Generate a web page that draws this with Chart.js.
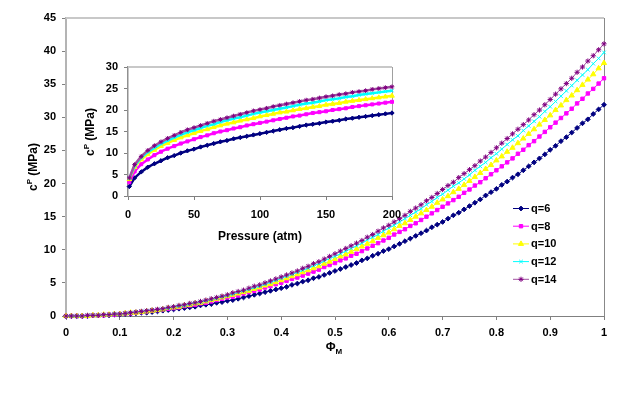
<!DOCTYPE html>
<html>
<head>
<meta charset="utf-8">
<script src="https://cdn.jsdelivr.net/npm/chart.js@4.4.0/dist/chart.umd.min.js"></script>
<style>
  html, body { margin: 0; padding: 0; background: #fff; }
  #wrap { position: relative; width: 635px; height: 393px; }
  #main { position: absolute; left: 0; top: 0; }
  #inset { position: absolute; left: 70px; top: 50px; }
</style>
</head>
<body>
<div id="wrap">
  <canvas id="main" width="635" height="393"></canvas>
  <canvas id="inset" width="350" height="200"></canvas>
</div>
<script>
// main chart: volume fraction (x) against c^P
var phi = [0,
  0.01, 0.02, 0.03, 0.04, 0.05, 0.06, 0.07, 0.08, 0.09, 0.10,
  0.11, 0.12, 0.13, 0.14, 0.15, 0.16, 0.17, 0.18, 0.19, 0.20,
  0.21, 0.22, 0.23, 0.24, 0.25, 0.26, 0.27, 0.28, 0.29, 0.30,
  0.31, 0.32, 0.33, 0.34, 0.35, 0.36, 0.37, 0.38, 0.39, 0.40,
  0.41, 0.42, 0.43, 0.44, 0.45, 0.46, 0.47, 0.48, 0.49, 0.50,
  0.51, 0.52, 0.53, 0.54, 0.55, 0.56, 0.57, 0.58, 0.59, 0.60,
  0.61, 0.62, 0.63, 0.64, 0.65, 0.66, 0.67, 0.68, 0.69, 0.70,
  0.71, 0.72, 0.73, 0.74, 0.75, 0.76, 0.77, 0.78, 0.79, 0.80,
  0.81, 0.82, 0.83, 0.84, 0.85, 0.86, 0.87, 0.88, 0.89, 0.90,
  0.91, 0.92, 0.93, 0.94, 0.95, 0.96, 0.97, 0.98, 0.99, 1.00];

var q6 = [0,
  0, 0, 0, 0, 0.1, 0.1, 0.1, 0.1, 0.2, 0.2,
  0.3, 0.3, 0.4, 0.5, 0.5, 0.6, 0.7, 0.8, 0.9, 1.0,
  1.1, 1.2, 1.3, 1.4, 1.6, 1.7, 1.8, 2.0, 2.1, 2.3,
  2.4, 2.6, 2.8, 3.0, 3.2, 3.4, 3.6, 3.8, 4.0, 4.2,
  4.4, 4.7, 4.9, 5.2, 5.4, 5.7, 5.9, 6.2, 6.5, 6.8,
  7.1, 7.4, 7.7, 8.0, 8.4, 8.7, 9.1, 9.4, 9.8, 10.1,
  10.5, 10.9, 11.3, 11.7, 12.1, 12.5, 12.9, 13.4, 13.8, 14.2,
  14.7, 15.2, 15.6, 16.1, 16.6, 17.1, 17.6, 18.2, 18.7, 19.2,
  19.8, 20.3, 20.9, 21.4, 22.0, 22.6, 23.2, 23.8, 24.4, 25.1,
  25.7, 26.4, 27.0, 27.7, 28.4, 29.1, 29.7, 30.5, 31.2, 31.9];

var q8 = [0,
  0, 0, 0, 0, 0.1, 0.1, 0.1, 0.2, 0.2, 0.3,
  0.4, 0.4, 0.5, 0.6, 0.7, 0.8, 0.9, 1.0, 1.1, 1.2,
  1.3, 1.5, 1.6, 1.7, 1.9, 2.0, 2.2, 2.4, 2.6, 2.8,
  2.9, 3.1, 3.4, 3.6, 3.8, 4.0, 4.3, 4.5, 4.8, 5.0,
  5.3, 5.6, 5.8, 6.1, 6.4, 6.7, 7.0, 7.4, 7.7, 8.0,
  8.4, 8.7, 9.1, 9.4, 9.8, 10.2, 10.6, 11.0, 11.4, 11.8,
  12.3, 12.7, 13.1, 13.6, 14.0, 14.5, 15.0, 15.5, 16.0, 16.5,
  17.0, 17.5, 18.0, 18.6, 19.1, 19.7, 20.2, 20.8, 21.4, 22.0,
  22.6, 23.2, 23.8, 24.5, 25.1, 25.8, 26.4, 27.1, 27.8, 28.5,
  29.2, 29.9, 30.6, 31.3, 32.1, 32.8, 33.6, 34.3, 35.1, 35.9];

var q10 = [0,
  0, 0, 0, 0, 0.1, 0.1, 0.2, 0.2, 0.3, 0.3,
  0.4, 0.5, 0.5, 0.6, 0.7, 0.8, 0.9, 1.0, 1.2, 1.3,
  1.4, 1.6, 1.7, 1.9, 2.0, 2.2, 2.4, 2.6, 2.8, 3.0,
  3.2, 3.4, 3.6, 3.8, 4.1, 4.3, 4.6, 4.8, 5.1, 5.4,
  5.7, 6.0, 6.3, 6.6, 6.9, 7.2, 7.5, 7.9, 8.2, 8.6,
  9.0, 9.3, 9.7, 10.1, 10.5, 10.9, 11.3, 11.8, 12.2, 12.6,
  13.1, 13.6, 14.0, 14.5, 15.0, 15.5, 16.0, 16.5, 17.1, 17.6,
  18.1, 18.7, 19.2, 19.8, 20.4, 21.0, 21.6, 22.2, 22.8, 23.5,
  24.1, 24.8, 25.4, 26.1, 26.8, 27.5, 28.2, 28.9, 29.6, 30.3,
  31.1, 31.8, 32.6, 33.3, 34.1, 34.9, 35.7, 36.5, 37.4, 38.2];

var q12 = [0,
  0, 0, 0, 0.1, 0.1, 0.1, 0.2, 0.2, 0.3, 0.3,
  0.4, 0.5, 0.6, 0.7, 0.8, 0.9, 1.0, 1.1, 1.2, 1.4,
  1.5, 1.6, 1.8, 2.0, 2.1, 2.3, 2.5, 2.7, 2.9, 3.1,
  3.3, 3.6, 3.8, 4.0, 4.3, 4.5, 4.8, 5.1, 5.4, 5.7,
  6.0, 6.3, 6.6, 6.9, 7.2, 7.6, 7.9, 8.3, 8.7, 9.0,
  9.4, 9.8, 10.2, 10.6, 11.0, 11.5, 11.9, 12.3, 12.8, 13.3,
  13.7, 14.2, 14.7, 15.2, 15.7, 16.2, 16.8, 17.3, 17.9, 18.4,
  19.0, 19.6, 20.1, 20.7, 21.3, 22.0, 22.6, 23.2, 23.9, 24.5,
  25.2, 25.9, 26.6, 27.2, 28.0, 28.7, 29.4, 30.1, 30.9, 31.6,
  32.4, 33.2, 34.0, 34.8, 35.6, 36.4, 37.2, 38.1, 38.9, 39.8];

var q14 = [0,
  0, 0, 0, 0.1, 0.1, 0.1, 0.2, 0.2, 0.3, 0.3,
  0.4, 0.5, 0.6, 0.7, 0.8, 0.9, 1.0, 1.1, 1.3, 1.4,
  1.6, 1.7, 1.9, 2.0, 2.2, 2.4, 2.6, 2.8, 3.0, 3.2,
  3.5, 3.7, 3.9, 4.2, 4.5, 4.7, 5.0, 5.3, 5.6, 5.9,
  6.2, 6.5, 6.8, 7.2, 7.5, 7.9, 8.2, 8.6, 9.0, 9.4,
  9.8, 10.2, 10.6, 11.0, 11.4, 11.9, 12.3, 12.8, 13.3, 13.7,
  14.2, 14.7, 15.2, 15.8, 16.3, 16.8, 17.4, 17.9, 18.5, 19.1,
  19.7, 20.2, 20.9, 21.5, 22.1, 22.7, 23.4, 24.0, 24.7, 25.4,
  26.1, 26.8, 27.5, 28.2, 28.9, 29.6, 30.4, 31.1, 31.9, 32.7,
  33.5, 34.3, 35.1, 35.9, 36.8, 37.6, 38.5, 39.3, 40.2, 41.1];

// inset: pressure (atm) against c^P
var pressure = [1, 5, 10, 15, 20, 25, 30, 35, 40, 45, 50,
  55, 60, 65, 70, 75, 80, 85, 90, 95, 100,
  105, 110, 115, 120, 125, 130, 135, 140, 145, 150,
  155, 160, 165, 170, 175, 180, 185, 190, 195, 200];

var p6 = [2.2, 4.2, 5.6, 6.7, 7.5, 8.2, 8.9, 9.4, 10.0, 10.5, 10.9,
  11.4, 11.8, 12.2, 12.6, 12.9, 13.3, 13.6, 13.9, 14.2, 14.5,
  14.8, 15.1, 15.4, 15.7, 15.9, 16.2, 16.5, 16.7, 16.9, 17.2,
  17.4, 17.6, 17.9, 18.1, 18.3, 18.5, 18.7, 18.9, 19.1, 19.3];
var p8 = [3.2, 5.7, 7.4, 8.5, 9.5, 10.3, 11.0, 11.6, 12.2, 12.7, 13.2,
  13.7, 14.1, 14.6, 15.0, 15.3, 15.7, 16.0, 16.4, 16.7, 17.0,
  17.3, 17.6, 17.9, 18.2, 18.5, 18.7, 19.0, 19.3, 19.5, 19.7,
  20.0, 20.2, 20.4, 20.7, 20.9, 21.1, 21.3, 21.5, 21.7, 21.9];
var p10 = [3.9, 6.7, 8.5, 9.7, 10.7, 11.6, 12.3, 13.0, 13.6, 14.1, 14.6,
  15.1, 15.5, 16.0, 16.4, 16.8, 17.1, 17.5, 17.8, 18.1, 18.5,
  18.8, 19.1, 19.4, 19.6, 19.9, 20.2, 20.4, 20.7, 20.9, 21.2,
  21.4, 21.6, 21.9, 22.1, 22.3, 22.5, 22.7, 22.9, 23.1, 23.3];
var p12 = [4.1, 7.0, 8.9, 10.2, 11.2, 12.1, 12.9, 13.6, 14.2, 14.8, 15.3,
  15.8, 16.3, 16.7, 17.2, 17.6, 18.0, 18.3, 18.7, 19.1, 19.4,
  19.7, 20.0, 20.3, 20.6, 20.9, 21.2, 21.5, 21.7, 22.0, 22.3,
  22.5, 22.7, 23.0, 23.2, 23.5, 23.7, 23.9, 24.1, 24.3, 24.5];
var p14 = [4.2, 7.3, 9.2, 10.6, 11.7, 12.6, 13.4, 14.1, 14.8, 15.4, 15.9,
  16.4, 16.9, 17.4, 17.8, 18.2, 18.6, 19.0, 19.4, 19.8, 20.1,
  20.4, 20.8, 21.1, 21.4, 21.7, 22.0, 22.3, 22.5, 22.8, 23.1,
  23.3, 23.6, 23.8, 24.1, 24.3, 24.5, 24.8, 25.0, 25.2, 25.4];

var seriesNames = ['q=6', 'q=8', 'q=10', 'q=12', 'q=14'];
var mainSeries = [q6, q8, q10, q12, q14];
var insetSeries = [p6, p8, p10, p12, p14];
var colors = ['#000080', '#ff00ff', '#ffff00', '#00ffff', '#800080'];
var lineColors = ['#000080', '#ff00ff', '#ffff00', '#00ffff', '#a050a0'];
var markers = ['rectRot', 'rect', 'triangle', 'crossRot', 'star'];
var markerSize = [2.4, 2.4, 3, 2.5, 2.6];

var FONT = 'Arial, "Liberation Sans", sans-serif';
Chart.defaults.font.family = FONT;
Chart.defaults.font.size = 11;
Chart.defaults.font.weight = 'bold';
Chart.defaults.color = '#000';

function pairs(xs, ys) {
    return xs.map(function(x, i) { return { x: x, y: ys[i] }; });
}

function makeDatasets(xs, list, sizeScale, lineWidth) {
    return list.map(function(ys, i) {
        return {
            label: seriesNames[i],
            data: pairs(xs, ys),
            borderColor: lineColors[i],
            backgroundColor: colors[i],
            pointBorderColor: colors[i],
            pointBackgroundColor: colors[i],
            pointStyle: markers[i],
            pointRadius: markerSize[i] * sizeScale,
            pointBorderWidth: 1,
            borderWidth: lineWidth,
            showLine: true,
            clip: false,
            order: 4 - i
        };
    });
}

// text with super/subscript parts, optionally rotated
function drawRich(ctx, parts, cx, cy, rotated) {
    ctx.save();
    ctx.translate(cx, cy);
    if (rotated) ctx.rotate(-Math.PI / 2);
    var total = 0;
    parts.forEach(function(p) {
        ctx.font = 'bold ' + p.size + 'px ' + FONT;
        p.w = ctx.measureText(p.t).width;
        total += p.w;
    });
    var x = -total / 2;
    ctx.fillStyle = '#000';
    ctx.textBaseline = 'middle';
    ctx.textAlign = 'left';
    parts.forEach(function(p) {
        ctx.font = 'bold ' + p.size + 'px ' + FONT;
        ctx.fillText(p.t, x, p.dy || 0);
        x += p.w;
    });
    ctx.restore();
}

function frame(ctx, a, topColor, rightColor) {
    ctx.save();
    ctx.strokeStyle = topColor;
    ctx.lineWidth = 2;
    ctx.beginPath();
    ctx.moveTo(a.left, a.top);
    ctx.lineTo(a.right, a.top);
    ctx.stroke();
    ctx.strokeStyle = rightColor;
    ctx.lineWidth = 1;
    ctx.beginPath();
    ctx.moveTo(a.right + 0.5, a.top);
    ctx.lineTo(a.right + 0.5, a.bottom);
    ctx.stroke();
    ctx.restore();
}

var mainDecor = {
    id: 'mainDecor',
    beforeDatasetsDraw: function(chart) {
        frame(chart.ctx, chart.chartArea, '#c8c8c8', '#888888');
    },
    afterDraw: function(chart) {
        var ctx = chart.ctx;
        drawRich(ctx, [{ t: 'c', size: 12 }, { t: 'P', size: 8, dy: -4 }, { t: ' (MPa)', size: 12 }], 34, 167, true);
        drawRich(ctx, [{ t: 'Φ', size: 12 }, { t: 'M', size: 8, dy: 4 }], 334, 348, false);

        // legend
        for (var i = 0; i < seriesNames.length; i++) {
            var y = 208 + i * 17.7;
            ctx.save();
            ctx.strokeStyle = lineColors[i];
            ctx.lineWidth = 1;
            ctx.beginPath();
            ctx.moveTo(513, y + 0.5);
            ctx.lineTo(529, y + 0.5);
            ctx.stroke();
            ctx.fillStyle = colors[i];
            ctx.strokeStyle = colors[i];
            Chart.helpers.drawPoint(ctx, { pointStyle: markers[i], radius: markerSize[i], rotation: 0, borderWidth: 1 }, 521, y + 0.5);
            ctx.fillStyle = '#000';
            ctx.font = 'bold 11px ' + FONT;
            ctx.textBaseline = 'middle';
            ctx.fillText(seriesNames[i], 531, y + 1);
            ctx.restore();
        }
    }
};

var insetDecor = {
    id: 'insetDecor',
    beforeDatasetsDraw: function(chart) {
        frame(chart.ctx, chart.chartArea, '#c8c8c8', '#a0a0a0');
    },
    afterDraw: function(chart) {
        var ctx = chart.ctx;
        drawRich(ctx, [{ t: 'c', size: 12 }, { t: 'P', size: 8, dy: -4 }, { t: ' (MPa)', size: 12 }], 21, 82, true);
        drawRich(ctx, [{ t: 'Pressure (atm)', size: 12 }], 190, 187, false);
    }
};

function axisOpts(min, max, step, size, horizontal, borderColor, borderWidth, pad) {
    return {
        type: 'linear',
        min: min,
        max: max,
        ticks: {
            stepSize: step,
            padding: pad,
            maxRotation: 0,
            autoSkip: false,
            callback: function(v) { return String(Math.round(v * 10) / 10); }
        },
        grid: { drawOnChartArea: false, drawTicks: true, tickLength: 4, tickColor: '#808080' },
        border: { display: true, color: borderColor, width: borderWidth },
        afterFit: function(scale) {
            if (horizontal) scale.height = size; else scale.width = size;
        }
    };
}

new Chart(document.getElementById('main').getContext('2d'), {
    type: 'scatter',
    data: { datasets: makeDatasets(phi, mainSeries, 1, 1) },
    options: {
        responsive: false,
        animation: false,
        layout: { padding: { left: 0, top: 18, right: 31, bottom: 0 } },
        plugins: { legend: { display: false }, tooltip: { enabled: false } },
        scales: {
            x: axisOpts(0, 1, 0.1, 77, true, '#808080', 1, 6),
            y: axisOpts(0, 45, 5, 66, false, '#b4b4b4', 2, 6)
        }
    },
    plugins: [mainDecor]
});

new Chart(document.getElementById('inset').getContext('2d'), {
    type: 'scatter',
    data: { datasets: makeDatasets(pressure, insetSeries, 0.9, 2.5) },
    options: {
        responsive: false,
        animation: false,
        layout: { padding: { left: 0, top: 17, right: 28, bottom: 0 } },
        plugins: { legend: { display: false }, tooltip: { enabled: false } },
        scales: {
            x: axisOpts(0, 200, 50, 54, true, '#808080', 1, 8),
            y: axisOpts(0, 30, 5, 58, false, '#909090', 1.5, 6)
        }
    },
    plugins: [insetDecor]
});
</script>
</body>
</html>
